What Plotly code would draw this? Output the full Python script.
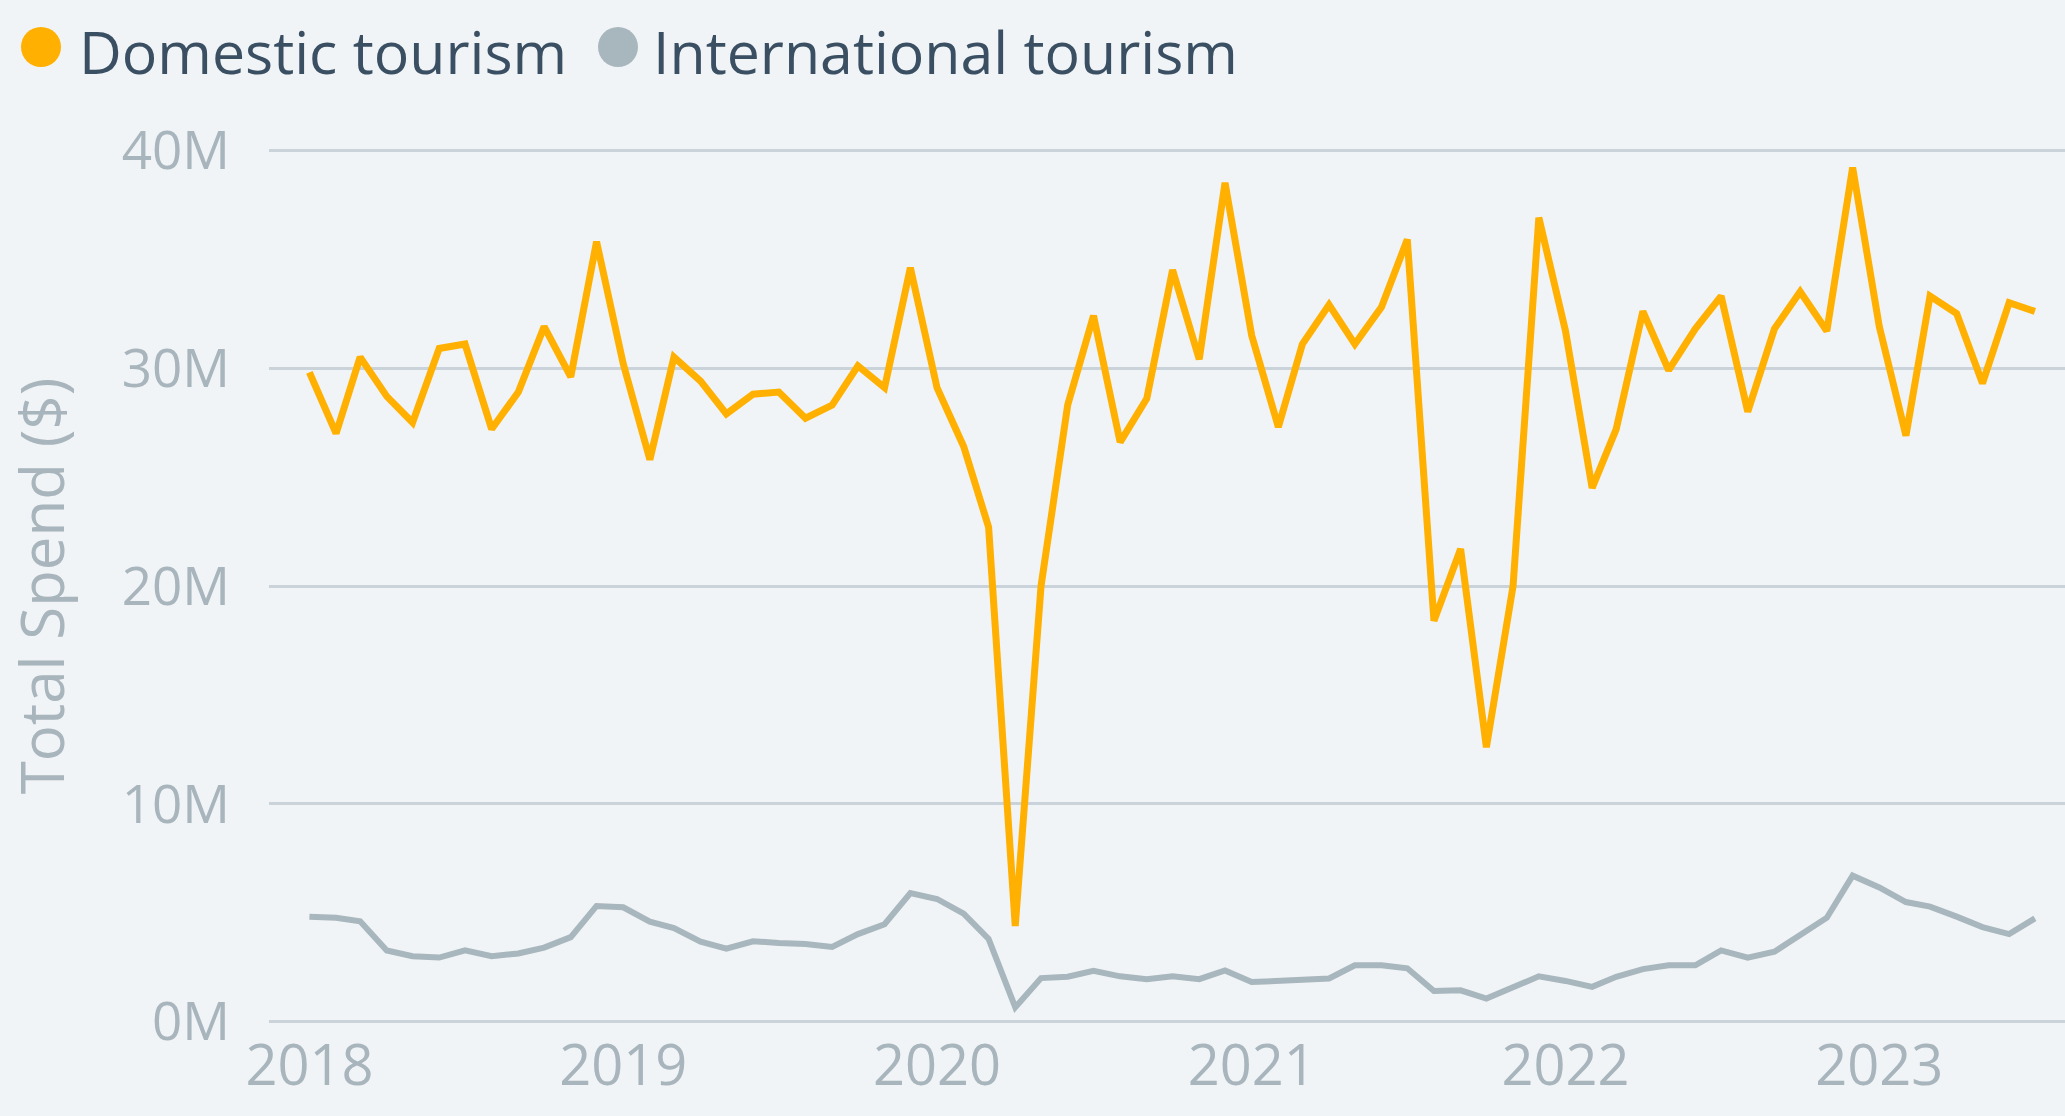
import pandas as pd
import plotly.graph_objects as go

# ---- data (values in millions of $) ----
months = pd.date_range("2018-01-01", "2023-07-01", freq="MS")

domestic = [29.8, 27.0, 30.5, 28.7, 27.5, 30.9, 31.1, 27.2, 28.9, 31.9, 29.6, 35.8,
            30.2, 25.8, 30.5, 29.4, 27.9, 28.8, 28.9, 27.7, 28.3, 30.1, 29.1, 34.6,
            29.1, 26.4, 22.7, 4.4, 20.0, 28.3, 32.4, 26.6, 28.6, 34.5, 30.4, 38.5,
            31.5, 27.3, 31.1, 32.9, 31.1, 32.8, 35.9, 18.4, 21.7, 12.6, 20.0, 36.9,
            31.7, 24.5, 27.2, 32.6, 29.9, 31.8, 33.3, 28.0, 31.8, 33.5, 31.7, 39.2,
            31.9, 26.9, 33.3, 32.5, 29.3, 33.0, 32.6]

international = [4.83, 4.78, 4.62, 3.28, 3.01, 2.95, 3.28, 3.01, 3.14, 3.41, 3.89, 5.32,
                 5.26, 4.60, 4.30, 3.68, 3.36, 3.70, 3.62, 3.57, 3.44, 4.03, 4.48, 5.91,
                 5.64, 4.97, 3.81, 0.67, 2.01, 2.07, 2.34, 2.09, 1.96, 2.09, 1.96, 2.36,
                 1.83, 1.91, 1.93, 1.99, 2.60, 2.60, 2.46, 1.42, 1.45, 1.07, 1.61, 2.09,
                 1.88, 1.61, 2.07, 2.42, 2.60, 2.60, 3.28, 2.95, 3.22, 3.95, 4.78, 6.71,
                 6.17, 5.50, 5.29, 4.83, 4.35, 4.03, 4.75]

series_names = ["Domestic tourism", "International tourism"]
y_tick_vals = [0, 10, 20, 30, 40]
y_tick_text = ["0M", "10M", "20M", "30M", "40M"]
x_tick_vals = ["2018-01-01", "2019-01-01", "2020-01-01", "2021-01-01", "2022-01-01", "2023-01-01"]
x_tick_text = ["2018", "2019", "2020", "2021", "2022", "2023"]

# ---- styling ----
W, H = 2065, 1116
BG = "#F0F4F7"
GRID = "#C9D3D9"
TICK = "#A8B5BC"
LEGEND_TXT = "#3B4F63"
C_DOM = "#FFB000"
C_INT = "#A8B6BD"
FONT = "Segoe UI, Open Sans, Noto Sans, sans-serif"

M_L, M_R, M_T, M_B = 269, 0, 144, 88
PW, PH = W - M_L - M_R, H - M_T - M_B


def px_x(px):
    return (px - M_L) / PW


def px_y(py):
    return (H - M_B - py) / PH


fig = go.Figure()
fig.add_trace(go.Scatter(x=months, y=international, mode="lines", name=series_names[1],
                         line=dict(color=C_INT, width=6), showlegend=False))
fig.add_trace(go.Scatter(x=months, y=domestic, mode="lines", name=series_names[0],
                         line=dict(color=C_DOM, width=7), showlegend=False))

# custom legend (large circles + text)
legend_items = [(41, 77, C_DOM, series_names[0]), (618, 651, C_INT, series_names[1])]
shapes, annotations = [], []
for cx, tx, col, txt in legend_items:
    r = 20
    shapes.append(dict(type="circle", xref="paper", yref="paper",
                       x0=px_x(cx - r), x1=px_x(cx + r), y0=px_y(47 + r), y1=px_y(47 - r),
                       fillcolor=col, line=dict(width=0)))
    annotations.append(dict(xref="paper", yref="paper", x=px_x(tx), y=px_y(51),
                            xanchor="left", yanchor="middle", showarrow=False,
                            text=txt, font=dict(family=FONT, size=59, color=LEGEND_TXT)))

fig.update_layout(
    width=W, height=H,
    margin=dict(l=M_L, r=M_R, t=M_T, b=M_B, autoexpand=False),
    paper_bgcolor=BG, plot_bgcolor=BG,
    showlegend=False,
    shapes=shapes, annotations=annotations,
    font=dict(family=FONT, color=TICK),
)
fig.update_xaxes(
    type="date", range=["2017-11-15", "2023-08-05"],
    tickvals=x_tick_vals, ticktext=x_tick_text,
    showgrid=False, zeroline=False, showline=False, ticks="",
    tickfont=dict(family=FONT, size=56, color=TICK),
)
fig.update_yaxes(
    range=[-0.28, 40.28],
    tickvals=y_tick_vals, ticktext=y_tick_text,
    showgrid=True, gridcolor=GRID, gridwidth=3, zeroline=False, showline=False, ticks="",
    tickfont=dict(family=FONT, size=53, color=TICK),
    ticklabelstandoff=38,
    title=dict(text="Total Spend ($)", font=dict(family=FONT, size=60, color=TICK), standoff=40),
    automargin=False,
)

fig.write_html(
    "out.html",
    config={"displayModeBar": False},
    post_script="document.body.style.margin='0';document.body.style.overflow='hidden';",
)
